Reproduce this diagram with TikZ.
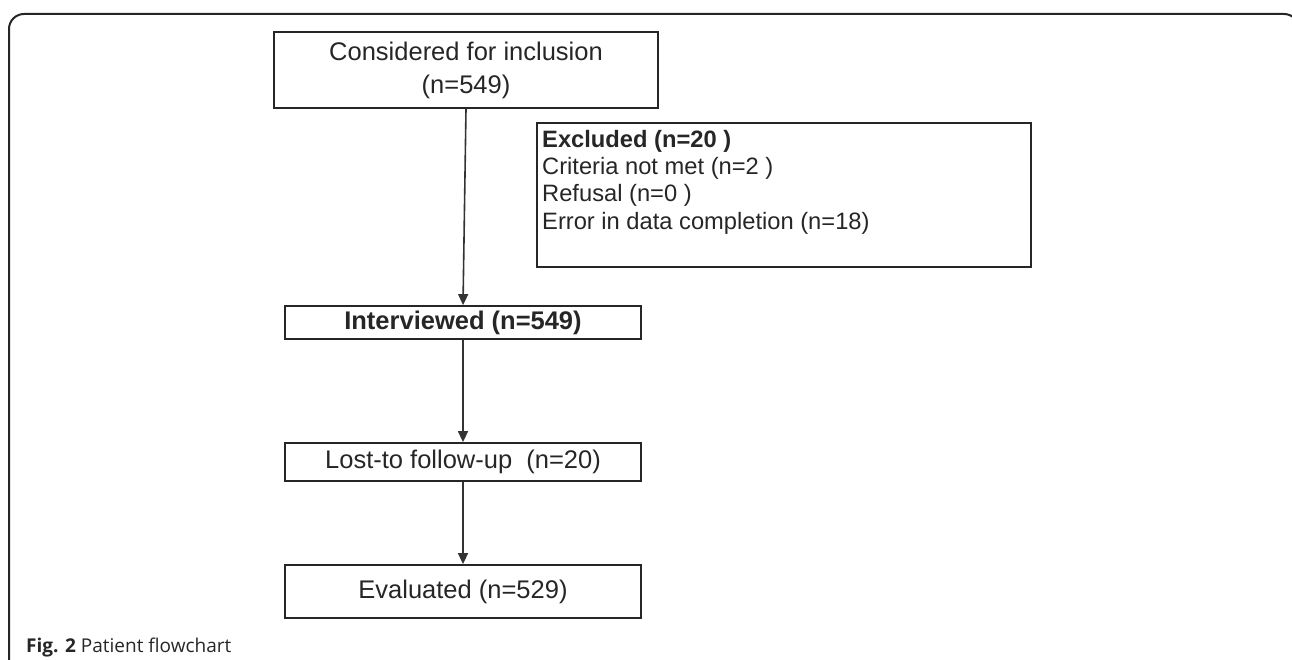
\documentclass[tikz,border=0pt]{standalone}
\usepackage{fontspec}
\setmainfont{Liberation Sans}
\newfontfamily\capfont{Open Sans}
\usetikzlibrary{arrows.meta}
\begin{document}
\begin{tikzpicture}[x=1pt,y=-1pt,
  box/.style={draw=black!85, line width=1.8pt, rectangle, inner sep=0pt, text=black!85},
  arr/.style={draw=black!80, line width=1.6pt, -{Triangle[length=11pt,width=10pt]}},
  big/.style={font=\fontsize{25.5}{33}\selectfont}
]
\useasboundingbox (0,0) rectangle (1292,660);
\clip (0,0) rectangle (1292,660);
\draw[line width=2pt, draw=black!85, rounded corners=15pt] (9,720) -- (9,14) -- (1299,14) -- (1299,720);

\node[box, big, minimum width=384pt, minimum height=76pt, align=center] (cons) at (466,70) {Considered for inclusion\\(n=549)};

\node[box, minimum width=494pt, minimum height=144pt, anchor=north west] (exc) at (536,122) {};
\node[anchor=north west, align=left, inner sep=0pt, text=black!85,
      font=\fontsize{23.7}{27.3}\selectfont] (exct) at (542,130)
  {\textbf{Excluded (n=20 )}\\Criteria not met (n=2 )\\Refusal (n=0 )\\Error in data completion (n=18)};

\node[box, minimum width=356pt, minimum height=33pt, font=\bfseries\fontsize{25.5}{30}\selectfont] (int) at (463,322.5) {Interviewed (n=549)};
\node[box, big, minimum width=356pt, minimum height=38pt] (lost) at (463,462) {Lost-to follow-up\ \ (n=20)};
\node[box, big, minimum width=356pt, minimum height=53pt] (eval) at (463,591.5) {Evaluated (n=529)};

\draw[arr] (cons.south) -- (int.north);
\draw[arr] (int.south) -- (lost.north);
\draw[arr] (lost.south) -- (eval.north);

\node[anchor=base west, inner sep=0pt, text=black!85, font=\capfont\fontsize{19}{22}\selectfont] (cap) at (26,652) {\textbf{Fig. 2} Patient flowchart};
\end{tikzpicture}
\end{document}
